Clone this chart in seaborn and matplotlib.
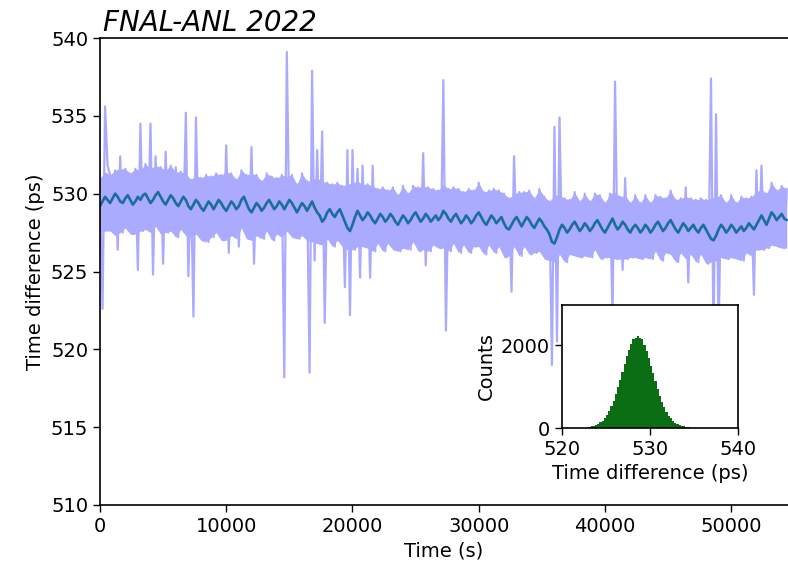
import numpy as np
import pandas as pd
import matplotlib
matplotlib.use("Agg")
import matplotlib.pyplot as plt
import seaborn as sns

# ---------------- data ----------------
time_step_s = 200
raw_ps = [
    531.0, 522.6, 535.6, 531.8, 531.2, 527.6, 531.5, 526.4, 532.4, 527.5,
    531.6, 527.8, 531.3, 527.4, 531.6, 525.1, 534.5, 527.6, 531.9, 527.7,
    534.5, 524.8, 532.4, 527.9, 531.7, 525.5, 532.7, 527.5, 531.8, 527.6,
    531.7, 527.2, 531.4, 527.7, 535.2, 524.7, 530.9, 522.1, 534.9, 527.4,
    531.0, 527.0, 531.2, 526.9, 531.1, 527.2, 531.3, 527.5, 531.2, 527.0,
    533.1, 526.2, 531.3, 527.3, 530.9, 526.6, 531.5, 527.8, 531.2, 527.1,
    533.0, 525.5, 531.2, 527.3, 530.8, 527.1, 531.3, 527.6, 531.1, 527.0,
    531.0, 527.4, 531.2, 518.2, 539.1, 527.6, 531.2, 527.2, 530.6, 527.1,
    531.3, 527.3, 530.8, 518.5, 537.9, 525.7, 532.8, 526.8, 534.0, 521.7,
    530.7, 527.1, 530.6, 526.6, 530.7, 527.0, 530.5, 524.0, 532.8, 522.2,
    532.8, 526.4, 531.6, 524.6, 531.8, 526.6, 530.6, 524.6, 531.8, 526.3,
    530.3, 526.8, 530.4, 526.3, 530.2, 526.8, 530.4, 526.4, 529.9, 526.3,
    530.5, 526.5, 530.0, 526.4, 530.5, 526.9, 530.4, 526.3, 532.6, 525.4,
    530.4, 526.3, 530.3, 526.7, 530.2, 526.5, 537.3, 521.2, 530.3, 526.3,
    530.4, 526.8, 530.3, 526.2, 530.1, 526.7, 530.3, 526.2, 530.2, 526.6,
    530.7, 526.6, 530.1, 526.1, 530.2, 526.7, 530.3, 526.2, 530.2, 526.6,
    530.0, 525.9, 529.7, 523.7, 532.4, 526.6, 530.1, 526.0, 530.1, 526.6,
    530.2, 526.1, 529.7, 526.2, 530.3, 526.3, 529.8, 525.8, 529.5, 519.0,
    534.3, 520.5, 534.9, 526.1, 529.7, 525.6, 529.6, 526.1, 530.1, 526.0,
    529.5, 525.9, 530.0, 526.0, 529.5, 525.9, 530.0, 526.4, 529.9, 525.8,
    529.4, 525.9, 530.0, 522.0, 537.2, 525.8, 529.8, 525.1, 531.0, 525.8,
    529.4, 525.9, 529.9, 525.9, 529.4, 525.8, 529.9, 525.9, 529.4, 525.8,
    529.9, 526.3, 529.8, 525.7, 529.7, 526.2, 530.2, 526.1, 529.6, 525.6,
    529.7, 526.2, 530.4, 524.3, 529.7, 526.1, 529.6, 525.6, 529.7, 526.1,
    529.6, 525.5, 537.4, 520.5, 535.1, 521.0, 529.9, 525.9, 529.4, 525.8,
    529.9, 525.9, 529.4, 525.8, 529.8, 525.7, 529.7, 526.2, 529.8, 523.5,
    531.5, 526.4, 531.8, 526.4, 530.0, 526.5, 530.7, 526.7, 530.2, 526.6,
    530.5, 526.5, 530.3,
]
# upper / lower edge of the dense noise band (every 400 s)
band_top_ps = [
    531.0, 531.4, 531.2, 531.5, 531.6, 531.6, 531.3, 531.6, 531.5, 531.9,
    531.6, 531.8, 531.7, 531.5, 531.8, 531.4, 531.4, 531.3, 530.9, 531.2,
    531.0, 531.2, 531.1, 531.3, 531.2, 531.4, 531.3, 530.9, 531.5, 531.2,
    531.3, 531.2, 530.8, 531.3, 531.1, 531.0, 531.2, 531.1, 531.2, 530.6,
    531.3, 530.8, 530.9, 531.0, 530.8, 530.7, 530.6, 530.7, 530.5, 530.6,
    530.7, 530.8, 530.6, 530.6, 530.5, 530.3, 530.4, 530.2, 530.4, 529.9,
    530.5, 530.0, 530.5, 530.4, 530.5, 530.4, 530.3, 530.2, 530.6, 530.3,
    530.4, 530.3, 530.1, 530.3, 530.2, 530.7, 530.1, 530.2, 530.3, 530.2,
    530.0, 529.7, 530.0, 530.1, 530.1, 530.2, 529.7, 530.3, 529.8, 529.5,
    529.9, 529.9, 529.7, 529.6, 530.1, 529.5, 530.0, 529.5, 530.0, 529.9,
    529.4, 530.0, 530.1, 529.8, 529.9, 529.4, 529.9, 529.4, 529.9, 529.4,
    529.9, 529.8, 529.7, 530.2, 529.6, 529.7, 529.8, 529.7, 529.6, 529.7,
    529.6, 529.7, 529.8, 529.9, 529.4, 529.9, 529.4, 529.8, 529.7, 529.8,
    530.1, 530.3, 530.0, 530.7, 530.2, 530.5, 530.3,
]
band_bottom_ps = [
    527.5, 527.6, 527.6, 527.3, 527.5, 527.8, 527.4, 527.4, 527.6, 527.7,
    527.5, 527.9, 527.4, 527.5, 527.6, 527.2, 527.7, 527.3, 527.2, 527.4,
    527.0, 526.9, 527.2, 527.5, 527.0, 527.0, 527.3, 527.1, 527.8, 527.1,
    527.0, 527.3, 527.1, 527.6, 527.0, 527.4, 527.2, 527.6, 527.2, 527.1,
    527.3, 527.0, 526.9, 526.8, 526.7, 527.1, 526.6, 527.0, 526.6, 526.4,
    526.4, 526.6, 526.6, 526.5, 526.3, 526.8, 526.3, 526.8, 526.4, 526.3,
    526.5, 526.4, 526.9, 526.3, 526.4, 526.3, 526.7, 526.5, 526.5, 526.3,
    526.8, 526.2, 526.7, 526.2, 526.6, 526.6, 526.1, 526.7, 526.2, 526.6,
    525.9, 526.0, 526.6, 526.0, 526.6, 526.1, 526.2, 526.3, 525.8, 525.7,
    525.6, 526.1, 525.6, 526.1, 526.0, 525.9, 526.0, 525.9, 526.4, 525.8,
    525.9, 525.9, 525.8, 525.8, 525.8, 525.9, 525.9, 525.8, 525.9, 525.8,
    526.3, 525.7, 526.2, 526.1, 525.6, 526.2, 525.8, 526.1, 525.6, 526.1,
    525.5, 525.6, 525.7, 525.9, 525.8, 525.9, 525.8, 525.7, 526.2, 526.0,
    526.4, 526.4, 526.5, 526.7, 526.6, 526.5, 526.5,
]
smooth_ps = [
    529.2, 529.5, 529.8, 529.6, 529.4, 529.7, 530.0, 529.8, 529.5, 529.4,
    529.7, 529.9, 529.6, 529.3, 529.5, 529.8, 529.6, 529.9, 530.0, 529.7,
    529.4, 529.6, 529.9, 530.1, 529.8, 529.5, 529.3, 529.6, 529.9, 529.7,
    529.4, 529.2, 529.5, 529.8, 529.6, 529.2, 529.0, 529.3, 529.6, 529.4,
    529.1, 528.9, 529.2, 529.5, 529.3, 529.0, 529.3, 529.6, 529.4, 529.1,
    528.9, 529.2, 529.5, 529.3, 529.0, 529.2, 529.6, 529.8, 529.4, 529.0,
    528.8, 529.1, 529.4, 529.2, 528.9, 529.1, 529.4, 529.6, 529.3, 529.0,
    529.2, 529.5, 529.3, 529.0, 529.3, 529.6, 529.4, 529.1, 528.8, 529.1,
    529.4, 529.2, 528.9, 529.2, 529.5, 529.1, 528.8, 528.6, 528.2, 528.4,
    528.8, 529.0, 528.7, 528.5, 528.8, 529.0, 528.6, 528.2, 527.8, 527.6,
    528.0, 528.5, 528.9, 528.6, 528.3, 528.5, 528.8, 528.6, 528.3, 528.1,
    528.4, 528.7, 528.5, 528.2, 528.4, 528.7, 528.5, 528.2, 528.0, 528.3,
    528.6, 528.4, 528.1, 528.3, 528.6, 528.8, 528.5, 528.2, 528.4, 528.7,
    528.5, 528.2, 528.4, 528.6, 528.3, 528.5, 528.9, 528.7, 528.4, 528.2,
    528.5, 528.7, 528.4, 528.1, 528.3, 528.6, 528.4, 528.1, 528.3, 528.6,
    528.8, 528.5, 528.2, 528.0, 528.3, 528.6, 528.4, 528.1, 528.3, 528.5,
    528.1, 527.8, 527.7, 528.0, 528.3, 528.5, 528.2, 527.9, 528.2, 528.5,
    528.3, 528.0, 527.8, 528.1, 528.4, 528.2, 527.9, 527.7, 527.4, 526.9,
    526.8, 527.2, 527.7, 528.0, 527.8, 527.5, 527.7, 528.0, 528.2, 527.9,
    527.6, 527.8, 528.1, 527.9, 527.6, 527.8, 528.1, 528.3, 528.0, 527.7,
    527.5, 527.8, 528.1, 528.4, 528.0, 527.7, 527.9, 528.2, 528.0, 527.7,
    527.5, 527.8, 528.0, 527.8, 527.5, 527.7, 528.0, 527.8, 527.5, 527.7,
    528.0, 528.2, 527.9, 527.6, 527.8, 528.1, 528.3, 528.0, 527.7, 527.5,
    527.8, 528.1, 527.9, 527.6, 527.8, 528.0, 527.7, 527.5, 527.8, 528.0,
    527.7, 527.4, 527.1, 527.0, 527.3, 527.7, 528.0, 527.8, 527.5, 527.7,
    528.0, 527.8, 527.5, 527.7, 527.9, 527.6, 527.8, 528.1, 527.9, 527.7,
    528.0, 528.3, 528.6, 528.3, 528.0, 528.4, 528.8, 528.6, 528.3, 528.5,
    528.7, 528.4, 528.3,
]
time_s = np.arange(len(raw_ps)) * time_step_s
band_time_s = time_s[::2]

hist_edges_ps = [523.0 + 0.25 * i for i in range(47)]
hist_counts = [
    28, 40, 55, 75, 100, 135, 180, 240, 315, 410,
    522, 656, 810, 981, 1165, 1356, 1547, 1729, 1894, 2033,
    2138, 2180, 2230, 2165, 2140, 2008, 1864, 1694, 1509, 1317,
    1127, 946, 778, 628, 498, 390, 300, 230, 175, 130,
    98, 72, 54, 40, 29, 20,
]
hist_centers = [(hist_edges_ps[i] + hist_edges_ps[i + 1]) / 2 for i in range(len(hist_counts))]

title_text = "FNAL-ANL 2022"
xlabel_main = "Time (s)"
ylabel_main = "Time difference (ps)"
xlabel_inset = "Time difference (ps)"
ylabel_inset = "Counts"

# ---------------- plot ----------------
sns.set_style("ticks")
plt.rcParams["font.family"] = ["DejaVu Sans"]
plt.rcParams["font.size"] = 14
for k in ["text.color", "axes.labelcolor", "xtick.color", "ytick.color", "axes.edgecolor"]:
    plt.rcParams[k] = "black"

light = "#aaaaff"
green = "#0b6e14"
fig = plt.figure(figsize=(7.88, 5.70), dpi=100)
ax = fig.add_axes([100 / 788, 65 / 570, 688 / 788, 467 / 570])

ax.fill_between(band_time_s, band_bottom_ps, band_top_ps, color=light, linewidth=0)
df = pd.DataFrame({"t": time_s, "raw": raw_ps, "smooth": smooth_ps})
sns.lineplot(data=df, x="t", y="raw", ax=ax, color=light, linewidth=1.6,
             estimator=None, sort=False)
sns.lineplot(data=df, x="t", y="smooth", ax=ax, color="#1b6e9c", linewidth=1.9,
             estimator=None, sort=False)

ax.set_xlim(0, 54500)
ax.set_ylim(510, 540)
ax.set_xticks([0, 10000, 20000, 30000, 40000, 50000])
ax.set_yticks([510, 515, 520, 525, 530, 535, 540])
ax.tick_params(labelsize=14, length=5, width=1)
ax.set_xlabel(xlabel_main, fontsize=14)
ax.set_ylabel(ylabel_main, fontsize=14)
ax.set_title(title_text, loc="left", fontsize=20, fontstyle="italic", pad=5, x=0.005)
ax.spines["right"].set_visible(False)
for s in ["left", "bottom", "top"]:
    ax.spines[s].set_linewidth(1.2)

# inset
axin = fig.add_axes([562 / 788, 142 / 570, 176 / 788, 123 / 570])
sns.histplot(x=hist_centers, weights=hist_counts, bins=hist_edges_ps, ax=axin,
             element="step", fill=True, color=green, alpha=1.0, linewidth=0)
axin.set_xlim(520, 540)
axin.set_ylim(0, 2970)
axin.set_xticks([520, 530, 540])
axin.set_yticks([0, 2000])
axin.tick_params(labelsize=14, length=5, width=1)
axin.set_xlabel(xlabel_inset, fontsize=14)
axin.set_ylabel(ylabel_inset, fontsize=14)
for s in axin.spines.values():
    s.set_linewidth(1.2)

fig.savefig("out.png", dpi=100)
